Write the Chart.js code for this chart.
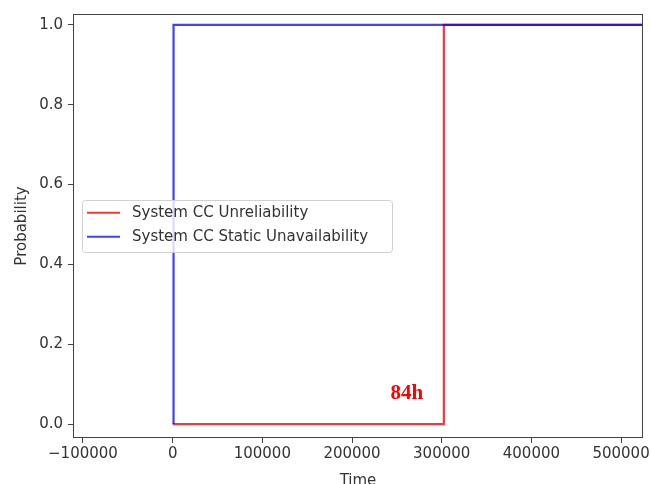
<!DOCTYPE html>
<html>
<head>
<meta charset="utf-8">
<script src="https://cdn.jsdelivr.net/npm/chart.js@4/dist/chart.umd.min.js"></script>
<style>
  html, body { margin: 0; padding: 0; background: #fff; }
  #wrap { width: 652px; height: 484px; }
</style>
</head>
<body>
<div id="wrap"><canvas id="chart" width="652" height="484"></canvas></div>
<script>
// Data (time in seconds, 84h = 302400 s)
const seriesLabels = ["System CC Unreliability", "System CC Static Unavailability"];
const unrelTime = [0, 302400, 302400, 600000];
const unrelProb = [0, 0, 1, 1];
const unavTime = [1000, 1000, 600000];
const unavProb = [0, 1, 1];
const xTicks = [-100000, 0, 100000, 200000, 300000, 400000, 500000];
const yTicks = [0.0, 0.2, 0.4, 0.6, 0.8, 1.0];
const noteText = "84h";
const notePos = [261000, 0.0775];

const axisColor = "#444";
const textColor = "#333";

function toPoints(xs, ys) {
    return xs.map((x, i) => ({ x: x, y: ys[i] }));
}

// Frame around the plot area (matplotlib spines) + the legend box + note
const framePlugin = {
    id: "frame",
    afterDatasetsDraw(chart) {
        const { ctx, chartArea: a, scales } = chart;
        ctx.save();
        ctx.strokeStyle = axisColor;
        ctx.lineWidth = 1;
        ctx.strokeRect(a.left + 0.5, a.top + 0.5, a.right - a.left - 1, a.bottom - a.top - 1);

        // note
        ctx.fillStyle = "#ff0000";
        ctx.font = "bold 21px 'Liberation Serif', 'DejaVu Serif', serif";
        ctx.textAlign = "center";
        ctx.textBaseline = "middle";
        ctx.fillText(noteText, scales.x.getPixelForValue(notePos[0]), scales.y.getPixelForValue(notePos[1]));

        // legend
        const lx = a.left + 9, ly = a.top + 186, lw = 310, lh = 52;
        ctx.fillStyle = "rgba(255,255,255,0.8)";
        ctx.strokeStyle = "#d0d0d0";
        ctx.beginPath();
        ctx.roundRect(lx + 0.5, ly + 0.5, lw, lh, 3);
        ctx.fill();
        ctx.stroke();
        ctx.font = "15px 'DejaVu Sans', sans-serif";
        ctx.textAlign = "left";
        chart.data.datasets.forEach((ds, i) => {
            const cy = ly + 12.7 + i * 24;
            ctx.strokeStyle = ds.borderColor;
            ctx.lineWidth = 2;
            ctx.beginPath();
            ctx.moveTo(lx + 5, cy);
            ctx.lineTo(lx + 38, cy);
            ctx.stroke();
            ctx.fillStyle = textColor;
            ctx.fillText(ds.label, lx + 50, cy);
        });
        ctx.restore();
    }
};

const chart = new Chart(document.getElementById("chart"), {
    type: "scatter",
    data: {
        datasets: [{
            label: seriesLabels[0],
            data: toPoints(unrelTime, unrelProb),
            showLine: true,
            borderColor: "rgba(255,0,0,0.8)",
            borderWidth: 2.2,
            pointRadius: 0,
            tension: 0,
            order: 1
        }, {
            label: seriesLabels[1],
            data: toPoints(unavTime, unavProb),
            showLine: true,
            borderColor: "rgba(0,0,255,0.75)",
            borderWidth: 2.2,
            pointRadius: 0,
            tension: 0,
            order: 0
        }]
    },
    options: {
        responsive: false,
        animation: false,
        layout: { padding: { top: 14, right: 8, left: 0, bottom: 0 } },
        plugins: {
            legend: { display: false },
            tooltip: { enabled: false }
        },
        scales: {
            x: {
                type: "linear",
                min: -111111,
                max: 524444,
                afterBuildTicks: (s) => { s.ticks = xTicks.map(v => ({ value: v })); },
                afterFit: (s) => { s.height = 46; },
                grid: { display: true, drawOnChartArea: false, color: axisColor, tickLength: 5 },
                border: { display: false },
                ticks: {
                    color: textColor,
                    font: { family: "'DejaVu Sans', sans-serif", size: 15 },
                    padding: 2,
                    maxRotation: 0,
                    autoSkip: false,
                    callback: (v) => String(v).replace("-", "\u2212")
                },
                title: {
                    display: true,
                    text: "Time",
                    color: textColor,
                    font: { family: "'DejaVu Sans', sans-serif", size: 15 },
                    padding: { top: 0, bottom: -6 }
                }
            },
            y: {
                type: "linear",
                min: -0.035,
                max: 1.0275,
                afterBuildTicks: (s) => { s.ticks = yTicks.map(v => ({ value: v })); },
                afterFit: (s) => { s.width = 73; },
                grid: { display: true, drawOnChartArea: false, color: axisColor, tickLength: 5 },
                border: { display: false },
                ticks: {
                    color: textColor,
                    font: { family: "'DejaVu Sans', sans-serif", size: 15 },
                    padding: 5,
                    autoSkip: false,
                    callback: (v) => v.toFixed(1)
                },
                title: {
                    display: true,
                    text: "Probability",
                    color: textColor,
                    font: { family: "'DejaVu Sans', sans-serif", size: 15 },
                    padding: { top: 13, bottom: 0 }
                }
            }
        }
    },
    plugins: [framePlugin]
});
</script>
</body>
</html>
